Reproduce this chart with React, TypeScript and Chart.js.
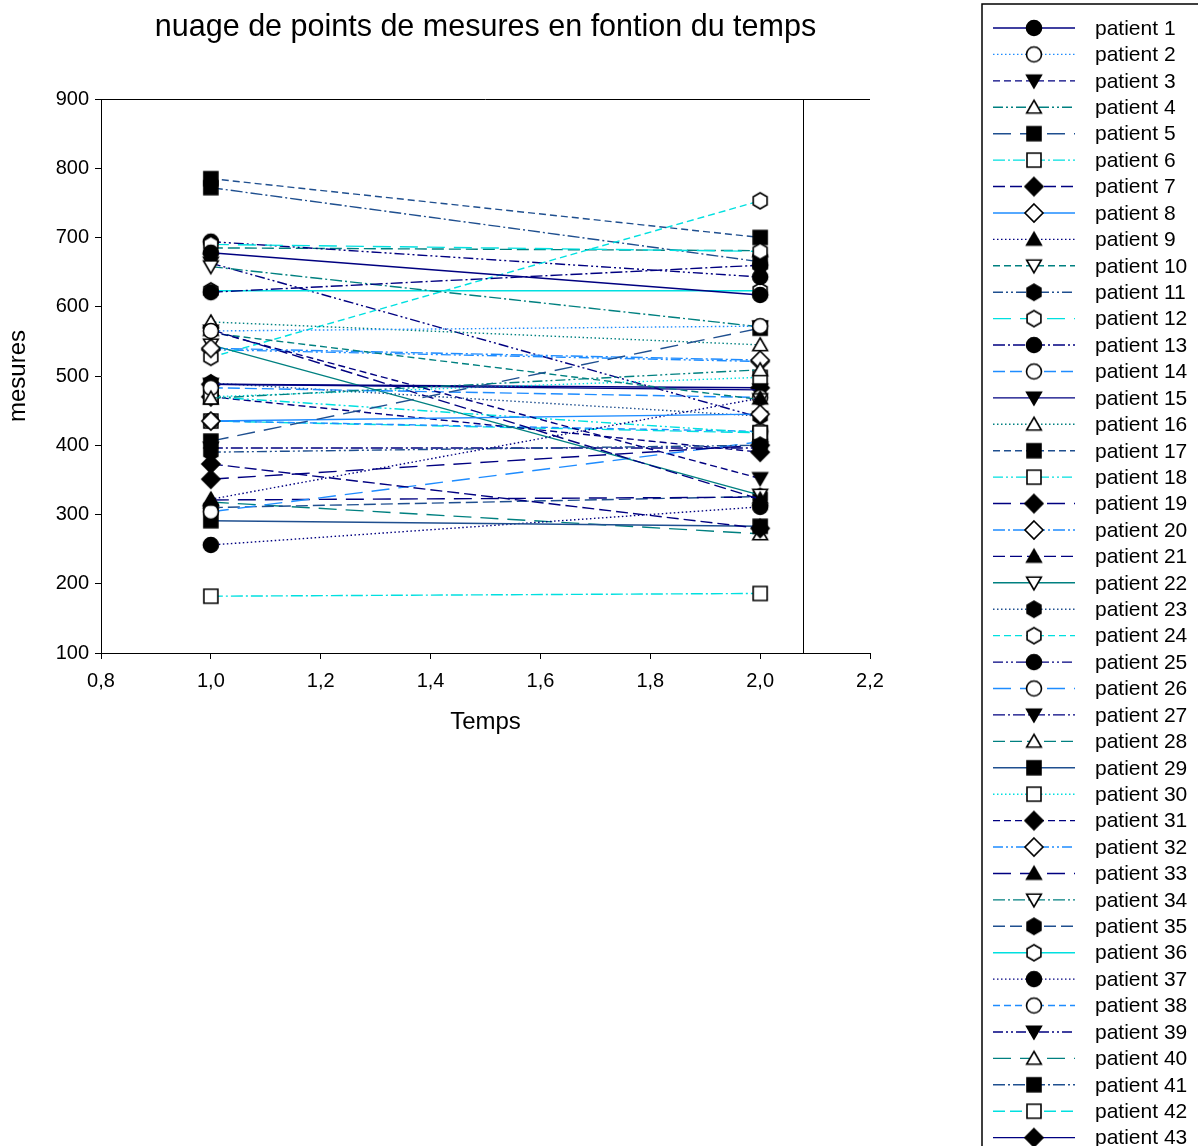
import React, { useEffect, useRef } from 'react';
import { Chart, registerables } from 'chart.js';

Chart.register(...registerables);

// ---- data ----
const timePoints = [1.0, 2.0];
const patientLabels = [
  'patient 1', 'patient 2', 'patient 3', 'patient 4', 'patient 5', 'patient 6', 'patient 7', 'patient 8',
  'patient 9', 'patient 10', 'patient 11', 'patient 12', 'patient 13', 'patient 14', 'patient 15',
  'patient 16', 'patient 17', 'patient 18', 'patient 19', 'patient 20', 'patient 21', 'patient 22',
  'patient 23', 'patient 24', 'patient 25', 'patient 26', 'patient 27', 'patient 28', 'patient 29',
  'patient 30', 'patient 31', 'patient 32', 'patient 33', 'patient 34', 'patient 35', 'patient 36',
  'patient 37', 'patient 38', 'patient 39', 'patient 40', 'patient 41', 'patient 42', 'patient 43',
];
const mesuresTemps1 = [
  678, 565, 565, 468, 406, 182, 373, 435, 322, 562, 390, 690, 621, 483, 488,
  578, 785, 470, 351, 540, 567, 545, 490, 527, 694, 304, 396, 685, 291, 470,
  470, 538, 321, 658, 310, 623, 256, 435, 663, 318, 772, 435, 488,
];
const mesuresTemps2 = [
  617, 572, 352, 509, 569, 186, 280, 445, 468, 466, 400, 680, 660, 469, 480,
  545, 700, 418, 400, 523, 322, 328, 442, 753, 643, 405, 396, 681, 283, 498,
  390, 521, 325, 571, 326, 623, 311, 420, 440, 272, 665, 418, 483,
];
const xTicksMin = 0.8;
const xTicksMax = 2.2;
const yTicksMin = 100;
const yTicksMax = 900;

// ---- styles ----
const FONT = "'Liberation Sans', Arial, Helvetica, sans-serif";
const lineColors = ['#000080', '#1E8CFF', '#000080', '#008080', '#1F4F8F', '#00E0E0'];
const lineDashes: number[][] = [
  [],
  [1.5, 2.5],
  [7, 4],
  [10, 3, 2, 3, 2, 3],
  [18, 9],
  [12, 3, 2, 3],
  [12, 5],
];
const markerKinds = [
  'circleF', 'circleO', 'triDownF', 'triUpO', 'squareF', 'squareO',
  'diamondF', 'diamondO', 'triUpF', 'triDownO', 'hexF', 'hexO',
];

function makeMarker(kind: string): HTMLCanvasElement {
  const S = 22;
  const c = document.createElement('canvas');
  c.width = S;
  c.height = S;
  const ctx = c.getContext('2d')!;
  const cx = S / 2;
  const cy = S / 2;
  const filled = kind.endsWith('F');
  const shape = kind.slice(0, -1);
  ctx.beginPath();
  const poly = (pts: number[][]) => {
    ctx.moveTo(pts[0][0], pts[0][1]);
    for (let i = 1; i < pts.length; i++) ctx.lineTo(pts[i][0], pts[i][1]);
    ctx.closePath();
  };
  if (shape === 'circle') {
    ctx.arc(cx, cy, 7.5, 0, Math.PI * 2);
  } else if (shape === 'square') {
    poly([[cx - 7, cy - 7], [cx + 7, cy - 7], [cx + 7, cy + 7], [cx - 7, cy + 7]]);
  } else if (shape === 'diamond') {
    poly([[cx, cy - 9], [cx + 9, cy], [cx, cy + 9], [cx - 9, cy]]);
  } else if (shape === 'triUp' || shape === 'triDown') {
    const r = 8.5;
    const dir = shape === 'triUp' ? -1 : 1;
    const pts: number[][] = [];
    for (let k = 0; k < 3; k++) {
      const a = Math.PI / 2 * dir + (k * 2 * Math.PI) / 3;
      pts.push([cx + r * Math.cos(a), cy + 1.5 * dir * -1 + r * Math.sin(a)]);
    }
    poly(pts);
  } else if (shape === 'hex') {
    const r = 8;
    const pts: number[][] = [];
    for (let k = 0; k < 6; k++) {
      const a = -Math.PI / 2 + (k * Math.PI) / 3;
      pts.push([cx + r * Math.cos(a), cy + r * Math.sin(a)]);
    }
    poly(pts);
  }
  ctx.fillStyle = filled ? '#000' : '#fff';
  ctx.fill();
  ctx.lineWidth = 1.6;
  ctx.strokeStyle = '#000';
  ctx.stroke();
  return c;
}

const frameAndLegendPlugin = {
  id: 'frameAndLegend',
  afterDraw(chart: any) {
    const ctx = chart.ctx as CanvasRenderingContext2D;
    const area = chart.chartArea;
    const xs = chart.scales.x;
    ctx.save();
    // title
    ctx.fillStyle = '#000';
    ctx.font = `30.5px ${FONT}`;
    ctx.textAlign = 'center';
    ctx.textBaseline = 'middle';
    ctx.fillText('nuage de points de mesures en fontion du temps', (area.left + area.right) / 2, 28);
    // x title
    ctx.font = `24px ${FONT}`;
    ctx.fillText('Temps', (area.left + area.right) / 2, 722);
    // y title
    ctx.save();
    ctx.translate(18, (area.top + area.bottom) / 2);
    ctx.rotate(-Math.PI / 2);
    ctx.fillText('mesures', 0, 0);
    ctx.restore();
    // frame: top line and inner right line
    ctx.strokeStyle = '#000';
    ctx.lineWidth = 1;
    ctx.setLineDash([]);
    ctx.beginPath();
    ctx.moveTo(area.left, area.top + 0.5);
    ctx.lineTo(area.right, area.top + 0.5);
    const rx = Math.round(xs.getPixelForValue(2.078)) + 0.5;
    ctx.moveTo(rx, area.top);
    ctx.lineTo(rx, area.bottom);
    ctx.stroke();

    // legend box
    ctx.lineWidth = 1.5;
    ctx.strokeRect(982, 4, 240, 1160);
    const step = 26.42;
    chart.data.datasets.forEach((ds: any, i: number) => {
      const y = 28 + i * step;
      ctx.save();
      ctx.strokeStyle = ds.borderColor;
      ctx.lineWidth = ds.borderWidth;
      ctx.setLineDash(ds.borderDash || []);
      ctx.beginPath();
      ctx.moveTo(993, y);
      ctx.lineTo(1075, y);
      ctx.stroke();
      ctx.restore();
      const img = ds.pointStyle as HTMLCanvasElement;
      ctx.drawImage(img, 1034 - img.width / 2, y - img.height / 2);
      ctx.fillStyle = '#000';
      ctx.font = `21px ${FONT}`;
      ctx.textAlign = 'left';
      ctx.textBaseline = 'middle';
      ctx.fillText(ds.label, 1095, y + 1);
    });
    ctx.restore();
  },
};

export default function App() {
  const canvasRef = useRef<HTMLCanvasElement | null>(null);

  useEffect(() => {
    if (!canvasRef.current) return;
    const markers: Record<string, HTMLCanvasElement> = {};
    markerKinds.forEach((k) => (markers[k] = makeMarker(k)));

    const datasets = patientLabels.map((label, i) => ({
      label,
      data: [
        { x: timePoints[0], y: mesuresTemps1[i] },
        { x: timePoints[1], y: mesuresTemps2[i] },
      ],
      borderColor: lineColors[i % lineColors.length],
      borderWidth: 1.4,
      borderDash: lineDashes[i % lineDashes.length],
      pointStyle: markers[markerKinds[i % markerKinds.length]],
      pointRadius: 8,
      fill: false,
      tension: 0,
    }));

    const chart = new Chart(canvasRef.current, {
      type: 'line',
      data: { datasets },
      plugins: [frameAndLegendPlugin],
      options: {
        animation: false,
        responsive: false,
        maintainAspectRatio: false,
        layout: { padding: { top: 99, right: 328, bottom: 393, left: 0 } },
        plugins: {
          legend: { display: false },
          title: { display: false },
          tooltip: { enabled: false },
        },
        elements: { line: { borderCapStyle: 'butt' } },
        scales: {
          x: {
            type: 'linear',
            min: xTicksMin,
            max: xTicksMax,
            afterFit: (s: any) => {
              s.height = 100;
            },
            ticks: {
              stepSize: 0.2,
              color: '#000',
              padding: 10,
              font: { family: FONT, size: 20 },
              callback: (v: any) => Number(v).toFixed(1).replace('.', ','),
            },
            grid: { drawOnChartArea: false, drawTicks: true, tickLength: 6, color: '#000' },
            border: { display: true, color: '#000', width: 1 },
          },
          y: {
            type: 'linear',
            min: yTicksMin,
            max: yTicksMax,
            afterFit: (s: any) => {
              s.width = 101;
            },
            ticks: {
              stepSize: 100,
              color: '#000',
              padding: 6,
              font: { family: FONT, size: 20 },
            },
            grid: { drawOnChartArea: false, drawTicks: true, tickLength: 6, color: '#000' },
            border: { display: true, color: '#000', width: 1 },
          },
        },
      },
    } as any);
    return () => chart.destroy();
  }, []);

  return (
    <div style={{ position: 'absolute', left: 0, top: 0, width: 1198, height: 1146, background: '#fff', overflow: 'hidden' }}>
      <canvas ref={canvasRef} width={1198} height={1146} style={{ display: 'block', width: 1198, height: 1146 }} />
    </div>
  );
}
